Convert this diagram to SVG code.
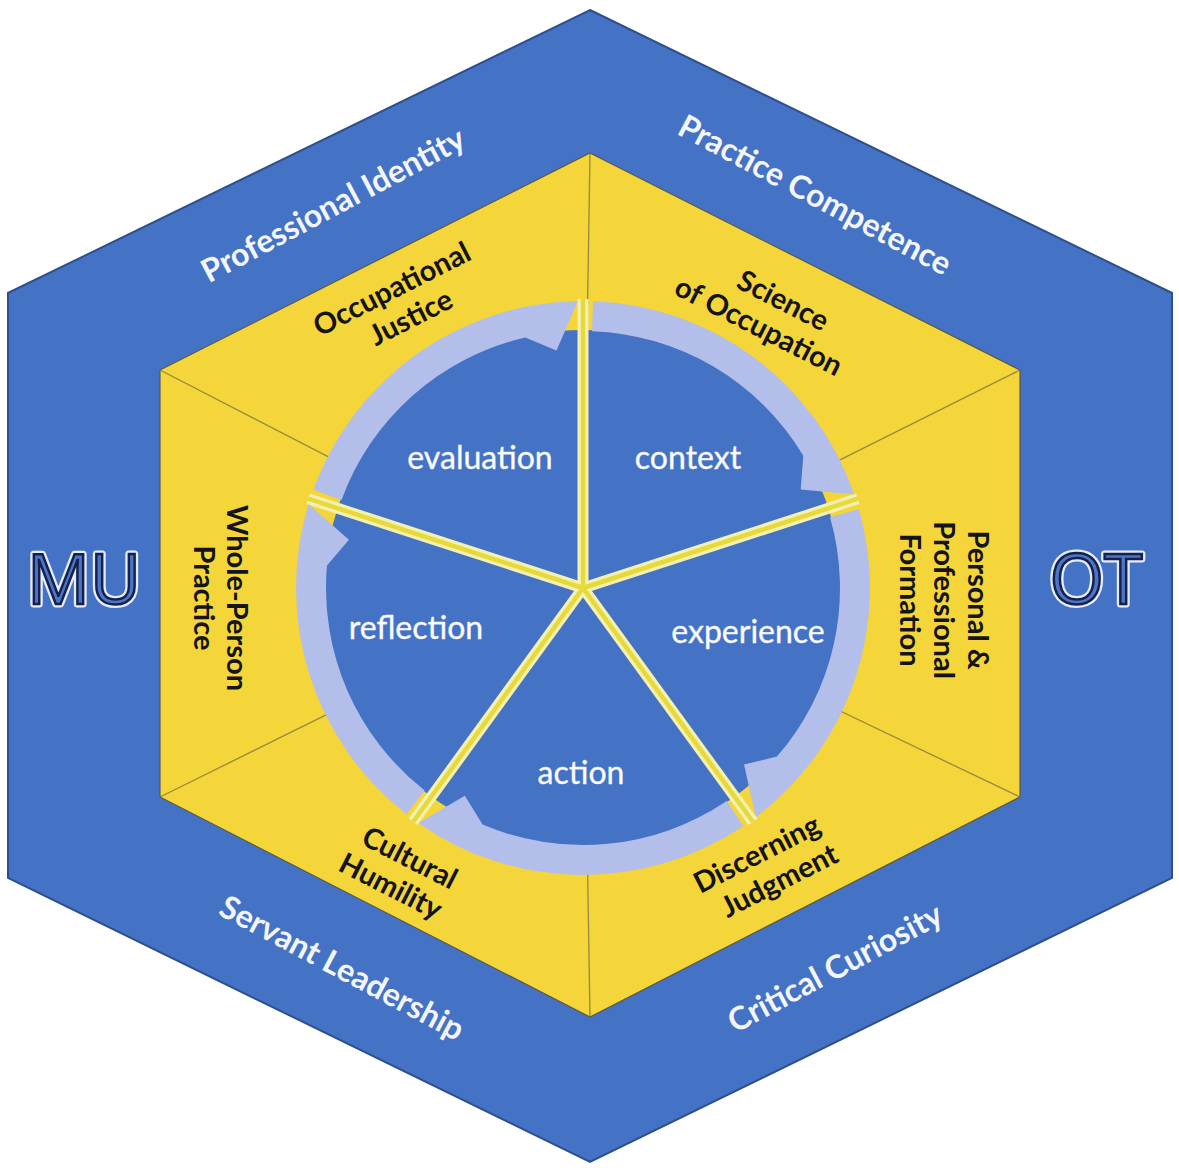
<svg xmlns="http://www.w3.org/2000/svg" xmlns:xlink="http://www.w3.org/1999/xlink" width="1179" height="1168" viewBox="0 0 1179 1168">
<style>
.band{fill:#4472C4;stroke:#2E4F8E;stroke-width:2}
.core{fill:#F4D53A;stroke:#5A5A4A;stroke-width:1.2}
.div{stroke:#6E6A40;stroke-width:1.3;stroke-opacity:0.7}
.ring{fill:#B4BEEA}
.spokeo{stroke:#F4F0B2;stroke-width:11;stroke-linecap:butt}
.spokei{stroke:#E6D93A;stroke-width:4.5}
.wl{font-family:Lato,"Open Sans",sans-serif;font-size:32px;fill:#FFFFFF;text-anchor:middle;stroke:#E8ECFF;stroke-width:0.4}
.yl{font-family:Lato,"Open Sans",sans-serif;font-weight:bold;font-size:29px;fill:#141414;text-anchor:middle}
.ol{font-family:Lato,"Open Sans",sans-serif;font-weight:bold;font-size:32px;fill:#F4F6FF;text-anchor:middle}
.big{font-family:"Open Sans",Lato,sans-serif;font-size:70px;text-anchor:middle}
</style>
<defs>
<path id="arr" d="M -269.69 -98.16 A 287 287 0 0 1 -5.01 -286.96 L -26.5 -237.5 L -57.81 -250.41 A 257 257 0 0 0 -241.50 -87.90 Z"/>
</defs>
<rect width="1179" height="1168" fill="#FFFFFF"/>
<g id="outer-hexagon">
<polygon class="band" points="590,10 1172,293 1172,878 590,1162 8,878 8,293"/>
</g>
<g id="inner-hexagon">
<polygon class="core" points="590,153 1020,370 1020,797 590,1017 160,797 160,370"/>
<line class="div" x1="590" y1="153" x2="583" y2="588"/>
<line class="div" x1="1020" y1="370" x2="583" y2="588"/>
<line class="div" x1="1020" y1="797" x2="583" y2="588"/>
<line class="div" x1="590" y1="1017" x2="583" y2="588"/>
<line class="div" x1="160" y1="797" x2="583" y2="588"/>
<line class="div" x1="160" y1="370" x2="583" y2="588"/>
</g>
<g id="wheel">
<circle cx="583" cy="588" r="258" fill="#4472C4"/>
</g>
<g id="connectors">
<g transform="translate(583 588)">
<use xlink:href="#arr" class="ring"/>
<use xlink:href="#arr" class="ring" transform="rotate(72)"/>
<use xlink:href="#arr" class="ring" transform="rotate(144)"/>
<use xlink:href="#arr" class="ring" transform="rotate(216)"/>
<use xlink:href="#arr" class="ring" transform="rotate(288)"/>
</g>
<g id="spokes" transform="translate(583 588)">
<line class="spokeo" x1="0" y1="0" x2="0" y2="-289"/>
<line class="spokeo" x1="0" y1="0" x2="274.9" y2="-89.3"/>
<line class="spokeo" x1="0" y1="0" x2="169.9" y2="233.8"/>
<line class="spokeo" x1="0" y1="0" x2="-169.9" y2="233.8"/>
<line class="spokeo" x1="0" y1="0" x2="-274.9" y2="-89.3"/>
<line class="spokei" x1="0" y1="0" x2="0" y2="-289"/>
<line class="spokei" x1="0" y1="0" x2="274.9" y2="-89.3"/>
<line class="spokei" x1="0" y1="0" x2="169.9" y2="233.8"/>
<line class="spokei" x1="0" y1="0" x2="-169.9" y2="233.8"/>
<line class="spokei" x1="0" y1="0" x2="-274.9" y2="-89.3"/>
</g>
</g>
<g id="node-evaluation"><text class="wl" x="480" y="469">evaluation</text></g>
<g id="node-context"><text class="wl" x="688" y="469">context</text></g>
<g id="node-experience"><text class="wl" x="748" y="643">experience</text></g>
<g id="node-action"><text class="wl" x="581" y="784">action</text></g>
<g id="node-reflection"><text class="wl" x="416" y="639">reflection</text></g>
<g id="node-occupational-justice" transform="translate(400 305) rotate(-27)">
<text class="yl" x="0" y="-8">Occupational</text>
<text class="yl" x="4" y="26">Justice</text>
</g>
<g id="node-science-of-occupation" transform="translate(766 312) rotate(27)">
<text class="yl" x="10" y="-8">Science</text>
<text class="yl" x="0" y="26">of Occupation</text>
</g>
<g id="node-personal-professional-formation" transform="translate(944 600) rotate(90)">
<text class="yl" x="0" y="-24">Personal &amp;</text>
<text class="yl" x="0" y="10">Professional</text>
<text class="yl" x="0" y="44">Formation</text>
</g>
<g id="node-discerning-judgment" transform="translate(765 870) rotate(-27)">
<text class="yl" x="0" y="-8">Discerning</text>
<text class="yl" x="8" y="26">Judgment</text>
</g>
<g id="node-cultural-humility" transform="translate(398 872) rotate(27)">
<text class="yl" x="4" y="-8">Cultural</text>
<text class="yl" x="0" y="26">Humility</text>
</g>
<g id="node-whole-person-practice" transform="translate(220 598) rotate(90)">
<text class="yl" x="0" y="-7">Whole-Person</text>
<text class="yl" x="0" y="26">Practice</text>
</g>
<g id="node-professional-identity" transform="translate(333 205) rotate(-28)"><text class="ol" x="0" y="11">Professional Identity</text></g>
<g id="node-practice-competence" transform="translate(815 195) rotate(28)"><text class="ol" x="0" y="11">Practice Competence</text></g>
<g id="node-servant-leadership" transform="translate(342 968) rotate(28)"><text class="ol" x="0" y="11">Servant Leadership</text></g>
<g id="node-critical-curiosity" transform="translate(835 968) rotate(-28)"><text class="ol" x="0" y="11">Critical Curiosity</text></g>
<g id="node-mu">
<text class="big" x="84" y="604" fill="none" stroke="#E6ECFF" stroke-width="7" stroke-linejoin="round">MU</text>
<text class="big" x="84" y="604" fill="#4A76C8" stroke="#16204A" stroke-width="2.5">MU</text>
</g>
<g id="node-ot">
<text class="big" x="1096" y="604" fill="none" stroke="#E6ECFF" stroke-width="7" stroke-linejoin="round">OT</text>
<text class="big" x="1096" y="604" fill="#4A76C8" stroke="#16204A" stroke-width="2.5">OT</text>
</g>
</svg>
